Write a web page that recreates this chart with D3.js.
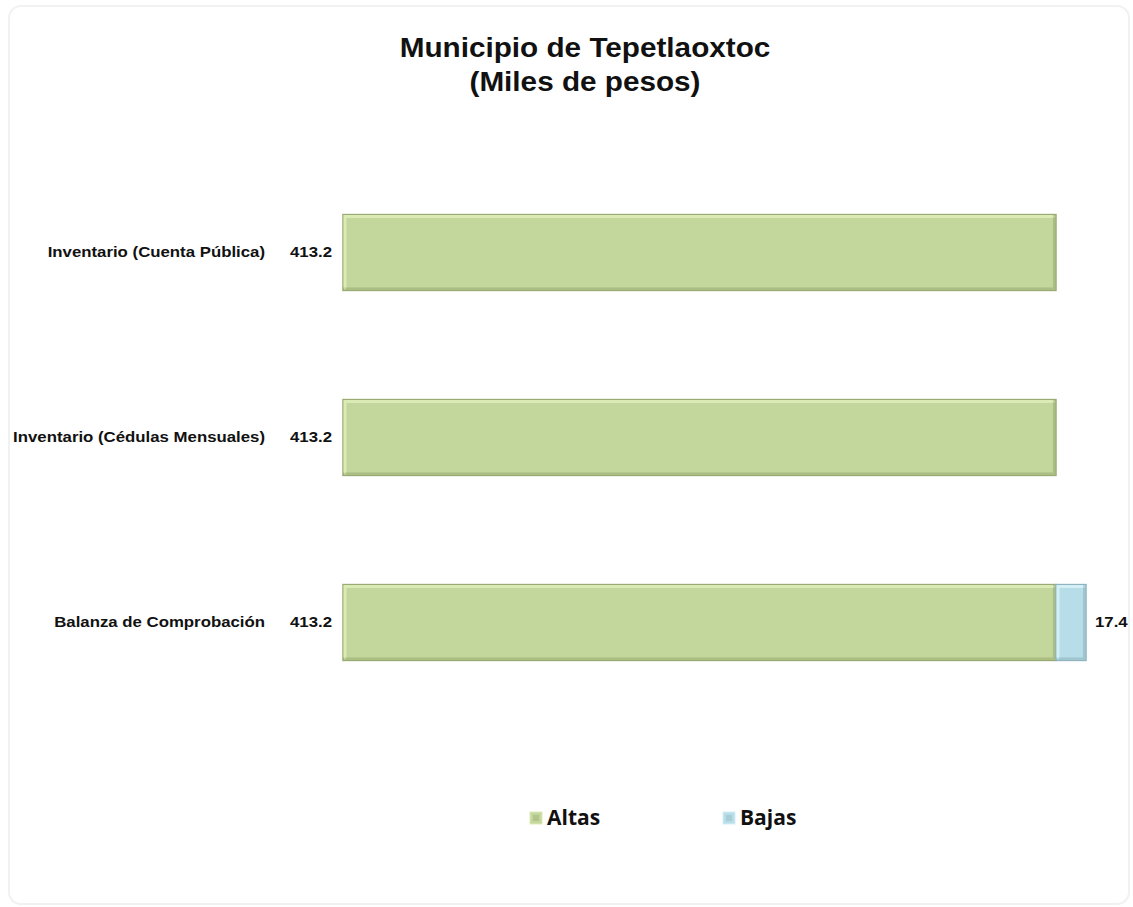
<!DOCTYPE html>
<html>
<head>
<meta charset="utf-8">
<title>Municipio de Tepetlaoxtoc</title>
<script src="https://d3js.org/d3.v7.min.js"></script>
<style>
  html, body { margin: 0; padding: 0; background: #fff; }
  text { font-family: "Liberation Sans", Arial, sans-serif; fill: #111; }
  .title { font-size: 27px; font-weight: bold; }
  .catLabel, .valLabel { font-size: 14px; font-weight: bold; }
  .legendText { font-family: "Open Sans", sans-serif; font-size: 21px; font-weight: bold; }
</style>
</head>
<body>
<script>
  // data
  var categories = ["Inventario (Cuenta Pública)", "Inventario (Cédulas Mensuales)", "Balanza de Comprobación"];
  var altas = [413.2, 413.2, 413.2];
  var bajas = [0, 0, 17.4];
  var seriesNames = ["Altas", "Bajas"];

  var W = 1133, H = 907;
  var colors = {Altas: "#c3d69b", Bajas: "#b7dee8"};
  var lightEdge = {Altas: "#dcebb5", Bajas: "#d4f0f6"};
  var darkEdge = {Altas: "#99ab72", Bajas: "#8fb4bf"};
  var stretch = 1.2;  // labels in the picture are a bit wide

  var svg = d3.select("body").append("svg").attr("width", W).attr("height", H);

  // faint frame
  svg.append("rect")
    .attr("x", 9).attr("y", 6).attr("width", W - 13).attr("height", H - 9)
    .attr("rx", 12)
    .style("fill", "#fff").style("stroke", "#f1f1f1").style("stroke-width", 2);

  // title
  var title = svg.append("text").attr("class", "title").attr("text-anchor", "middle")
    .attr("transform", "translate(585,0) scale(1.1,1)");
  title.append("tspan").attr("x", 0).attr("y", 57).text("Municipio de Tepetlaoxtoc");
  title.append("tspan").attr("x", 0).attr("y", 91).text("(Miles de pesos)");

  var rows = categories.map(function(c, i) {
    return {cat: c, Altas: altas[i], Bajas: bajas[i]};
  });
  var stacked = d3.stack().keys(seriesNames)(rows);

  var x = d3.scaleLinear()
    .domain([0, d3.max(rows, function(d) { return d.Altas + d.Bajas; })])
    .range([343, 1086]);

  var y = d3.scaleBand()
    .domain(categories)
    .range([160, 715])
    .paddingInner(0.59)
    .paddingOuter(0.295);

  var layers = svg.selectAll(".layer")
    .data(stacked).enter()
    .append("g")
    .attr("class", "layer");

  var segs = layers.selectAll(".seg")
    .data(function(s) {
      return s.map(function(d) { return {key: s.key, x0: d[0], x1: d[1], cat: d.data.cat}; })
        .filter(function(d) { return d.x1 > d.x0; });
    }).enter()
    .append("g")
    .attr("class", "seg");

  segs.append("rect")
    .attr("x", function(d) { return x(d.x0); })
    .attr("y", function(d) { return y(d.cat); })
    .attr("width", function(d) { return x(d.x1) - x(d.x0); })
    .attr("height", y.bandwidth())
    .style("fill", function(d) { return colors[d.key]; })
    .style("stroke", function(d) { return darkEdge[d.key]; })
    .style("stroke-width", 1.5);

  // bevel highlight (top and left)
  segs.append("path")
    .attr("d", function(d) {
      var x0 = x(d.x0) + 2, x1 = x(d.x1) - 3, y0 = y(d.cat) + 2, y1 = y(d.cat) + y.bandwidth() - 3;
      return "M" + x0 + "," + y1 + "L" + x0 + "," + y0 + "L" + x1 + "," + y0;
    })
    .style("fill", "none")
    .style("stroke", function(d) { return lightEdge[d.key]; })
    .style("stroke-width", 3);

  // bevel shadow (right and bottom)
  segs.append("path")
    .attr("d", function(d) {
      var x0 = x(d.x0) + 3, x1 = x(d.x1) - 2, y0 = y(d.cat) + 3, y1 = y(d.cat) + y.bandwidth() - 2;
      return "M" + x1 + "," + y0 + "L" + x1 + "," + y1 + "L" + x0 + "," + y1;
    })
    .style("fill", "none")
    .style("stroke", function(d) { return darkEdge[d.key]; })
    .style("stroke-width", 2)
    .style("opacity", 0.6);

  function place(px, py) {
    return "translate(" + px + "," + py + ") scale(" + stretch + ",1)";
  }

  // category labels
  svg.selectAll(".catLabel")
    .data(categories).enter()
    .append("text")
    .attr("class", "catLabel")
    .attr("text-anchor", "end")
    .attr("transform", function(d) { return place(265, y(d) + y.bandwidth() / 2); })
    .attr("dy", "0.35em")
    .text(function(d) { return d; });

  // altas value labels, left of the bars
  svg.selectAll(".valAltas")
    .data(rows).enter()
    .append("text")
    .attr("class", "valLabel")
    .attr("text-anchor", "end")
    .attr("transform", function(d) { return place(x(0) - 11, y(d.cat) + y.bandwidth() / 2); })
    .attr("dy", "0.35em")
    .text(function(d) { return d3.format(".1f")(d.Altas); });

  // bajas value labels, right of the bars
  svg.selectAll(".valBajas")
    .data(rows.filter(function(d) { return d.Bajas > 0; })).enter()
    .append("text")
    .attr("class", "valLabel")
    .attr("transform", function(d) { return place(x(d.Altas + d.Bajas) + 9, y(d.cat) + y.bandwidth() / 2); })
    .attr("dy", "0.35em")
    .text(function(d) { return d3.format(".1f")(d.Bajas); });

  // legend
  var legendX = [530, 723];
  var legend = svg.selectAll(".legend")
    .data(seriesNames).enter()
    .append("g")
    .attr("class", "legend")
    .attr("transform", function(d, i) { return "translate(" + legendX[i] + ",818)"; });

  legend.append("rect")
    .attr("x", 0).attr("y", -6)
    .attr("width", 12).attr("height", 12)
    .style("fill", function(d) { return colors[d]; })
    .style("stroke", function(d) { return lightEdge[d]; })
    .style("stroke-width", 1);
  legend.append("rect")
    .attr("x", 3).attr("y", -3)
    .attr("width", 6).attr("height", 6)
    .style("fill", function(d) { return darkEdge[d]; })
    .style("opacity", 0.4);

  legend.append("text")
    .attr("class", "legendText")
    .attr("x", 17)
    .attr("dy", "0.35em")
    .text(function(d) { return d; });
</script>
</body>
</html>
